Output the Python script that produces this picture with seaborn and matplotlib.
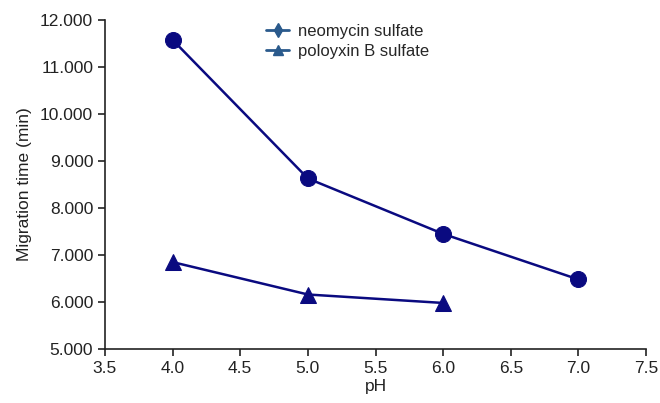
import pandas as pd
import numpy as np
import seaborn as sns
import matplotlib.pyplot as plt
from matplotlib.lines import Line2D

# valeurs
ph_neo = [4.0, 5.0, 6.0, 7.0]
time_neo = [11.58, 8.63, 7.45, 6.48]
ph_poly = [4.0, 5.0, 6.0]
time_poly = [6.85, 6.16, 5.98]
names = ["neomycin sulfate", "poloyxin B sulfate"]

df = pd.DataFrame({
    "pH": ph_neo + ph_poly,
    "time": time_neo + time_poly,
    "drug": [names[0]] * len(ph_neo) + [names[1]] * len(ph_poly),
})

sns.set_style("ticks")
plt.rcParams["font.family"] = ["Liberation Sans", "DejaVu Sans"]

fig = plt.figure(figsize=(6.6, 4.03), dpi=100)
ax = fig.add_axes([0.159, 0.134, 0.820, 0.816])

navy = "#0a0a80"
sns.lineplot(data=df, x="pH", y="time", hue="drug", style="drug",
             palette={names[0]: navy, names[1]: navy},
             markers={names[0]: "o", names[1]: "^"}, dashes=False,
             markersize=11.5, markeredgecolor=navy, linewidth=1.8, ax=ax, legend=False)

fs = 12.5
ax.set_xlim(3.5, 7.5)
ax.set_ylim(5, 12)
ax.set_xticks(np.arange(3.5, 7.6, 0.5))
ax.set_yticks(np.arange(5, 12.1, 1))
ax.set_xticklabels([f"{v:.1f}" for v in np.arange(3.5, 7.6, 0.5)], fontsize=fs)
ax.set_yticklabels([f"{v:.3f}" for v in np.arange(5, 12.1, 1)], fontsize=fs)
ax.tick_params(direction="out", length=5, width=1.2, color="#222222", labelcolor="#222222")
for s in ["left", "bottom"]:
    ax.spines[s].set_linewidth(1.2)
    ax.spines[s].set_color("#222222")
sns.despine(ax=ax)

ax.set_xlabel("pH", fontsize=fs, labelpad=2, color="#222222")
ax.set_ylabel("Migration time (min)", fontsize=fs, labelpad=6, color="#222222")

leg_col = "#2a5a8c"
handles = [
    Line2D([], [], color=leg_col, marker="d", markersize=7, lw=2),
    Line2D([], [], color=leg_col, marker="^", markersize=7, lw=2),
]
ax.legend(handles, names, loc="upper left", bbox_to_anchor=(0.27, 1.035), frameon=False,
          fontsize=12, handlelength=1.4, handletextpad=0.5, labelspacing=0.3)

plt.savefig("out.png", dpi=100)
